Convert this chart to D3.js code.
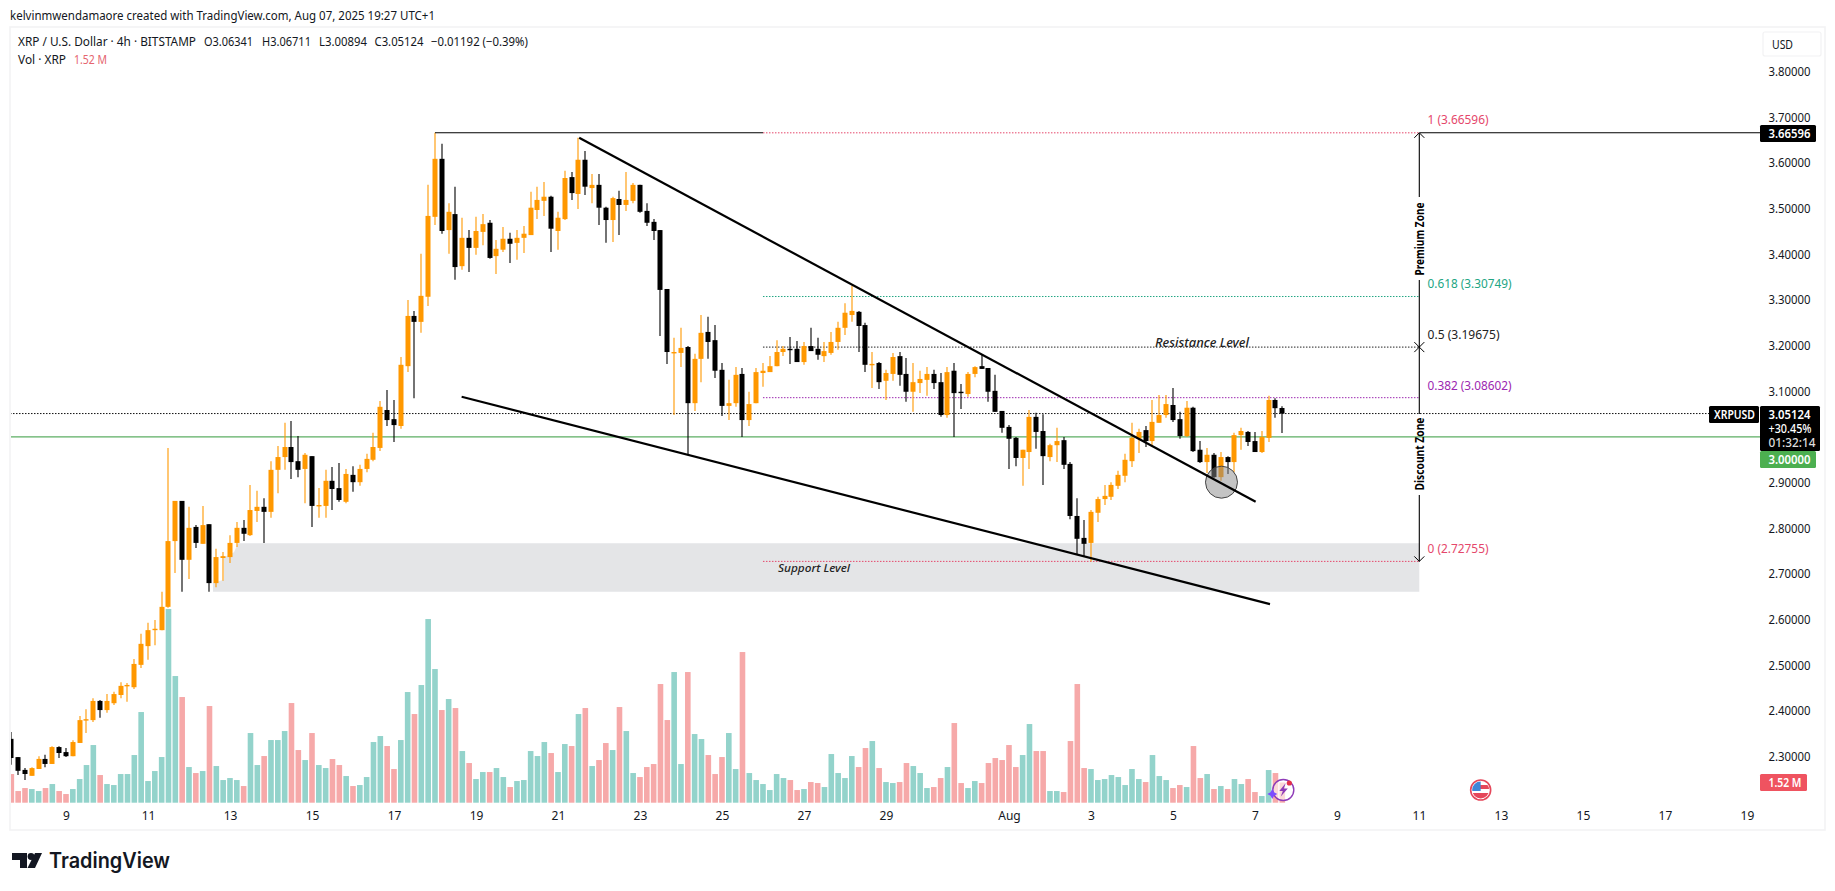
<!DOCTYPE html>
<html>
<head>
<meta charset="utf-8">
<title>XRP / U.S. Dollar</title>
<script src="https://cdn.jsdelivr.net/npm/d3@7"></script>
<style>
  html, body { margin: 0; padding: 0; background: #fff; }
  svg { display: block; }
  text { font-family: "Noto Sans", sans-serif; fill: #131722; }
</style>
</head>
<body>
<div id="chart"></div>
<script>
// 4h candles, first bar is 8 bars before the "9" tick
const opens = [
  2.339,2.299,2.271,2.258,2.273,2.295,2.284,2.321,2.310,2.301,
  2.330,2.380,2.380,2.422,2.402,2.417,2.435,2.455,2.452,2.501,
  2.542,2.577,2.577,2.628,2.772,2.860,2.731,2.803,2.766,2.809,
  2.680,2.735,2.737,2.768,2.801,2.785,2.838,2.847,2.836,2.928,
  2.956,2.978,2.947,2.930,2.958,2.849,2.849,2.904,2.888,2.858,
  2.917,2.901,2.930,2.950,2.976,3.059,3.039,3.024,3.155,3.265,
  3.252,3.307,3.482,3.609,3.453,3.488,3.374,3.436,3.414,3.449,
  3.469,3.396,3.410,3.434,3.425,3.436,3.442,3.497,3.517,3.526,
  3.451,3.477,3.569,3.532,3.607,3.545,3.552,3.502,3.475,3.521,
  3.508,3.517,3.552,3.495,3.471,3.453,3.324,3.184,3.184,3.197,
  3.074,3.171,3.230,3.212,3.147,3.068,3.074,3.138,3.037,3.074,
  3.140,3.142,3.155,3.186,3.193,3.193,3.164,3.199,3.193,3.177,
  3.184,3.208,3.239,3.267,3.274,3.245,3.158,3.162,3.123,3.138,
  3.177,3.138,3.099,3.118,3.125,3.138,3.120,3.048,3.145,3.099,
  3.094,3.138,3.155,3.151,3.101,3.057,3.022,2.998,2.954,2.967,
  3.044,3.013,2.956,2.982,2.993,2.941,2.827,2.779,2.768,2.834,
  2.864,2.869,2.893,2.915,2.947,2.996,3.015,2.991,3.031,3.048,
  3.070,3.039,3.002,3.064,2.972,2.945,2.961,2.912,2.956,2.945,
  3.004,3.011,2.991,2.967,2.998,3.081,3.06341
];
const highs = [
  2.354,2.299,2.275,2.277,2.301,2.304,2.323,2.323,2.319,2.336,
  2.389,2.404,2.428,2.424,2.437,2.442,2.463,2.461,2.514,2.569,
  2.593,2.599,2.661,2.976,2.860,2.860,2.847,2.807,2.849,2.809,
  2.755,2.748,2.785,2.814,2.818,2.895,2.882,2.866,2.947,2.980,
  3.031,3.035,3.002,2.965,2.958,2.888,2.928,2.934,2.943,2.930,
  2.936,2.939,2.963,3.009,3.079,3.103,3.081,3.175,3.300,3.276,
  3.401,3.552,3.666,3.642,3.512,3.548,3.480,3.453,3.482,3.488,
  3.475,3.431,3.460,3.447,3.453,3.462,3.537,3.548,3.558,3.528,
  3.493,3.583,3.580,3.655,3.626,3.576,3.576,3.504,3.526,3.539,
  3.580,3.556,3.552,3.512,3.477,3.453,3.324,3.217,3.239,3.199,
  3.182,3.267,3.263,3.245,3.162,3.125,3.153,3.151,3.099,3.151,
  3.162,3.177,3.212,3.199,3.219,3.210,3.208,3.239,3.217,3.208,
  3.230,3.252,3.293,3.331,3.276,3.250,3.186,3.164,3.147,3.184,
  3.186,3.173,3.162,3.145,3.153,3.147,3.140,3.153,3.162,3.116,
  3.142,3.155,3.180,3.151,3.136,3.057,3.026,3.000,2.972,3.059,
  3.053,3.050,2.985,3.020,3.000,2.945,2.866,2.818,2.840,2.869,
  2.895,2.901,2.926,2.963,3.031,3.018,3.024,3.081,3.092,3.092,
  3.107,3.055,3.079,3.066,2.991,2.976,2.965,2.967,2.958,3.009,
  3.020,3.013,3.011,3.013,3.090,3.085,3.06711
];
const lows = [
  2.282,2.260,2.249,2.258,2.273,2.277,2.284,2.297,2.299,2.301,
  2.330,2.352,2.376,2.385,2.396,2.413,2.428,2.420,2.448,2.494,
  2.512,2.544,2.577,2.626,2.702,2.661,2.689,2.757,2.766,2.661,
  2.671,2.685,2.724,2.759,2.772,2.783,2.814,2.768,2.823,2.877,
  2.928,2.908,2.912,2.855,2.803,2.823,2.823,2.840,2.858,2.855,
  2.880,2.893,2.923,2.947,2.969,3.024,2.989,3.018,3.142,3.085,
  3.228,3.287,3.464,3.445,3.401,3.344,3.366,3.361,3.399,3.420,
  3.390,3.357,3.405,3.381,3.388,3.403,3.442,3.477,3.484,3.405,
  3.410,3.475,3.519,3.499,3.530,3.512,3.464,3.425,3.427,3.442,
  3.495,3.512,3.491,3.462,3.431,3.221,3.160,3.048,3.153,2.961,
  3.057,3.120,3.171,3.129,3.046,3.037,3.066,3.000,3.024,3.074,
  3.110,3.142,3.155,3.177,3.160,3.164,3.158,3.188,3.169,3.164,
  3.180,3.191,3.223,3.252,3.186,3.142,3.107,3.105,3.081,3.123,
  3.112,3.077,3.055,3.096,3.090,3.105,3.044,3.042,3.000,3.061,
  3.088,3.131,3.149,3.077,3.055,3.009,2.930,2.936,2.893,2.930,
  2.974,2.895,2.947,2.945,2.930,2.820,2.742,2.739,2.72755,2.814,
  2.851,2.862,2.886,2.901,2.934,2.965,2.978,2.982,3.031,3.042,
  3.033,2.996,3.000,2.967,2.943,2.921,2.910,2.904,2.919,2.923,
  2.972,2.980,2.967,2.965,2.989,3.042,3.00894
];
const closes = [
  2.297,2.269,2.262,2.275,2.295,2.284,2.321,2.308,2.301,2.332,
  2.380,2.382,2.422,2.402,2.422,2.437,2.455,2.457,2.503,2.547,
  2.577,2.580,2.628,2.772,2.860,2.731,2.801,2.768,2.807,2.680,
  2.737,2.739,2.768,2.801,2.788,2.840,2.847,2.836,2.928,2.956,
  2.978,2.945,2.928,2.961,2.849,2.851,2.904,2.886,2.862,2.919,
  2.901,2.930,2.952,2.978,3.066,3.037,3.026,3.158,3.265,3.252,
  3.309,3.484,3.609,3.451,3.493,3.372,3.436,3.414,3.451,3.466,
  3.392,3.412,3.434,3.423,3.436,3.445,3.502,3.519,3.526,3.456,
  3.480,3.567,3.534,3.607,3.548,3.552,3.502,3.475,3.523,3.508,
  3.519,3.552,3.493,3.469,3.451,3.322,3.186,3.186,3.195,3.074,
  3.171,3.228,3.208,3.145,3.068,3.074,3.136,3.037,3.072,3.142,
  3.145,3.155,3.186,3.193,3.191,3.164,3.199,3.188,3.180,3.188,
  3.208,3.239,3.272,3.276,3.243,3.158,3.160,3.120,3.140,3.175,
  3.136,3.099,3.120,3.127,3.138,3.118,3.048,3.142,3.096,3.096,
  3.138,3.153,3.149,3.099,3.055,3.020,2.996,2.954,2.972,3.044,
  3.011,2.958,2.982,2.991,2.939,2.827,2.777,2.766,2.836,2.864,
  2.871,2.895,2.917,2.950,2.998,3.011,2.991,3.033,3.048,3.072,
  3.037,3.002,3.064,2.969,2.945,2.961,2.912,2.956,2.945,3.004,
  3.013,2.989,2.967,3.000,3.081,3.063,3.05124
];
// volume in thousands of XRP
const volumes = [
  2150,875,1100,1025,875,1100,1400,875,650,1025,
  1775,2825,4325,2075,1400,1325,2150,2150,3575,6800,
  1625,2375,3425,14525,9500,7925,2675,2225,2375,7250,
  2750,1700,1850,1700,1250,5225,2825,3500,4700,4700,
  5375,7475,3950,3200,5225,2825,2600,3275,2825,2000,
  1250,1325,1925,4550,5000,4250,2525,4700,8300,6650,
  8825,13775,10025,6950,7775,7100,3875,2975,1775,2300,
  2300,2600,1925,1175,1625,1700,3875,3500,4550,3725,
  2300,4400,4250,6650,7100,2750,3200,4475,3950,7175,
  5375,2225,1925,2675,2900,8900,6200,9800,2900,9800,
  5150,4775,3575,2150,3425,5225,2525,11300,2225,1700,
  1400,950,2150,1850,1700,950,1025,1550,1475,1175,
  3650,2225,1850,3500,2675,4100,4625,2600,1550,1475,
  1550,2975,2750,2225,1100,1175,1850,2675,5975,1475,
  1100,1625,1475,2975,3350,3200,4325,2675,3575,5900,
  3875,3875,875,875,800,4625,8900,2600,2525,1700,
  1775,2075,1925,1325,2525,1775,1550,3575,2000,1700,
  1100,1325,1175,4250,1850,2150,1025,1250,1025,1775,
  1400,1775,800,500,2450,2225,1520
];

const barsPerDay = 6;
const firstTickBar = 8;
const priceTicks = [3.8,3.7,3.6,3.5,3.4,3.3,3.2,3.1,2.9,2.8,2.7,2.6,2.5,2.4,2.3];
const tickDays = [0,2,4,6,8,10,12,14,16,18,20,23,25,27,29,31,33,35,37,39,41];
const tickLabels = ["9","11","13","15","17","19","21","23","25","27","29","Aug","3","5","7","9","11","13","15","17","19"];

const fibLevels = [1, 0.618, 0.5, 0.382, 0];
const fibPrices = [3.66596, 3.30749, 3.19675, 3.08602, 2.72755];
const fibColors = ["#e5476b", "#22a583", "#222222", "#9c27b0", "#e5476b"];
const fibLabelLift = [13, 13, 13, 12, 13];

const lastPrice = 3.05124;
const roundPrice = 3.0;
const highPrice = 3.66596;

const width = 1835, height = 891;
const svg = d3.select("#chart").append("svg").attr("width", width).attr("height", height);

const x = d3.scaleLinear().domain([0, opens.length - 1]).range([11.33, 1282.3]);
const y = d3.scaleLinear().domain([3.8, 2.3]).range([71.6, 756.65]);
const yVol = d3.scaleLinear().domain([0, 15000]).range([802.7, 602.7]);
const dayX = day => x(firstTickBar + day * barsPerDay);
const candles = opens.map((o, i) => ({ i, o, h: highs[i], l: lows[i], c: closes[i], v: volumes[i] }));

const frameLeft = 10, frameTop = 27, frameRight = 1825, frameBottom = 830;
const fibLeft = x(110), fibRight = 1419.3, scaleLeft = 1760;

// frame
svg.append("rect").attr("x", frameLeft).attr("y", frameTop)
  .attr("width", frameRight - frameLeft).attr("height", frameBottom - frameTop)
  .attr("fill", "none").attr("stroke", "#f3f3f4").attr("stroke-width", 1.6);

svg.append("clipPath").attr("id", "pane").append("rect")
  .attr("x", frameLeft + 1).attr("y", frameTop).attr("width", scaleLeft - frameLeft - 1).attr("height", frameBottom - frameTop);
const pane = svg.append("g").attr("clip-path", "url(#pane)");

// support zone, the left end steps around the candles
const zoneTop = y(2.767), zoneBottom = y(2.661);
pane.append("path")
  .attr("d", d3.line()([[238, zoneTop], [fibRight, zoneTop], [fibRight, zoneBottom], [213, zoneBottom], [213, zoneBottom - 9], [224, zoneBottom - 12], [224, zoneTop + 14], [234, zoneTop + 9]]) + "Z")
  .attr("fill", "#e4e5e7");

// volume
pane.append("g").selectAll("rect").data(candles).join("rect")
  .attr("x", d => x(d.i) - 2.8)
  .attr("width", 5.6)
  .attr("y", d => yVol(d.v))
  .attr("height", d => yVol(0) - yVol(d.v))
  .attr("fill", d => d.c >= d.o ? "#93d3cb" : "#f6a9a9");

// fib levels
pane.append("g").selectAll("line").data(fibPrices).join("line")
  .attr("x1", fibLeft).attr("x2", fibRight)
  .attr("y1", d => y(d)).attr("y2", d => y(d))
  .attr("stroke", (d, i) => fibColors[i])
  .attr("stroke-dasharray", "1.5 1.5")
  .attr("stroke-width", 1);

// last price and round number lines
pane.append("line").attr("x1", frameLeft).attr("x2", 1709).attr("y1", y(lastPrice)).attr("y2", y(lastPrice))
  .attr("stroke", "#111").attr("stroke-dasharray", "1.5 1.5");
pane.append("line").attr("x1", frameLeft).attr("x2", scaleLeft).attr("y1", y(roundPrice)).attr("y2", y(roundPrice))
  .attr("stroke", "#5cae63").attr("stroke-width", 1.2);

// candles
const candleColor = d => d.c >= d.o ? "#ff9800" : "#000000";
const candle = pane.append("g").selectAll("g").data(candles).join("g");
candle.append("line")
  .attr("x1", d => Math.round(x(d.i))).attr("x2", d => Math.round(x(d.i)))
  .attr("y1", d => y(d.h)).attr("y2", d => y(d.l))
  .attr("stroke", candleColor).attr("stroke-width", 1.1);
candle.append("rect")
  .attr("x", d => Math.round(x(d.i)) - 2.5)
  .attr("width", 5)
  .attr("y", d => y(Math.max(d.o, d.c)))
  .attr("height", d => Math.max(1.4, Math.abs(y(d.o) - y(d.c))))
  .attr("fill", candleColor);

// highest price line, left part and right part of the fib
svg.append("line").attr("x1", x(62)).attr("x2", fibLeft).attr("y1", y(highPrice)).attr("y2", y(highPrice))
  .attr("stroke", "#000").attr("stroke-width", 1.1);
svg.append("line").attr("x1", fibRight).attr("x2", scaleLeft).attr("y1", y(highPrice)).attr("y2", y(highPrice))
  .attr("stroke", "#000").attr("stroke-width", 1.1);

// retest circle, sits on the candles
svg.append("circle").attr("cx", x(177.1)).attr("cy", y(2.901)).attr("r", 16)
  .attr("fill", "#8a8a8a").attr("fill-opacity", 0.5).attr("stroke", "#444").attr("stroke-width", 1);

// wedge lines
const upperLine = [[83.1, 3.655], [182.1, 2.858]];
const lowerLine = [[65.9, 3.088], [184.2, 2.634]];
[upperLine, lowerLine].forEach(pts => {
  svg.append("path")
    .attr("d", d3.line().x(p => x(p[0])).y(p => y(p[1]))(pts))
    .attr("stroke", "#000").attr("stroke-width", 2.2).attr("fill", "none");
});

// vertical range line with the zone names
const vSegs = [[133.3, 197], [280, 414], [495, y(2.72755)]];
svg.append("g").selectAll("line").data(vSegs).join("line")
  .attr("x1", fibRight).attr("x2", fibRight).attr("y1", d => d[0]).attr("y2", d => d[1])
  .attr("stroke", "#000").attr("stroke-width", 1.1);
const marks = svg.append("g").attr("fill", "none").attr("stroke", "#000").attr("stroke-width", 1);
const yTop = y(highPrice), yMid = y(3.19675), yBot = y(2.72755);
marks.append("path").attr("d", `M${fibRight - 5},${yTop + 5}L${fibRight},${yTop}L${fibRight + 5},${yTop + 5}`);
marks.append("path").attr("d", `M${fibRight - 5},${yBot - 5}L${fibRight},${yBot}L${fibRight + 5},${yBot - 5}`);
marks.append("path").attr("d", `M${fibRight - 5},${yMid - 5}L${fibRight + 5},${yMid + 5}M${fibRight - 5},${yMid + 5}L${fibRight + 5},${yMid - 5}`);

function label(txt, px, py, opts = {}) {
  const t = svg.append("text").attr("x", px).attr("y", py).text(txt)
    .attr("dominant-baseline", "central")
    .attr("font-size", opts.size || 12)
    .attr("text-anchor", opts.anchor || "start");
  if (opts.width) t.attr("textLength", opts.width).attr("lengthAdjust", "spacingAndGlyphs");
  if (opts.color) t.style("fill", opts.color);
  if (opts.weight) t.attr("font-weight", opts.weight);
  if (opts.italic) t.attr("font-style", "italic");
  if (opts.rotate) t.attr("transform", `rotate(${opts.rotate},${px},${py})`);
  return t;
}

label("Premium Zone", fibRight, 239, { anchor: "middle", rotate: -90, weight: 700, size: 11.5, width: 73, color: "#000" });
label("Discount Zone", fibRight, 454, { anchor: "middle", rotate: -90, weight: 700, size: 11.5, width: 73, color: "#000" });
label("Resistance Level", 1155, 342, { italic: true, size: 12.5, width: 94, color: "#222", weight: 500 });
label("Support Level", 778, 567, { italic: true, size: 11.5, width: 72, color: "#222", weight: 500 });

// fib labels
const fibLabelWidths = [61, 84, 72, 84, 61];
fibLevels.forEach((lv, i) => {
  label(`${lv} (${fibPrices[i].toFixed(5)})`, 1427.5, y(fibPrices[i]) - fibLabelLift[i], { size: 12, color: fibColors[i], width: fibLabelWidths[i] });
});

// price axis
const yAxis = d3.axisRight(y).tickValues(priceTicks).tickFormat(d3.format(".5f")).tickSize(0).tickPadding(0);
const yAxisG = svg.append("g").attr("transform", "translate(1768.5,0)").call(yAxis);
yAxisG.select(".domain").remove();
yAxisG.selectAll("text").attr("font-size", 12).attr("textLength", 42).attr("lengthAdjust", "spacingAndGlyphs").attr("font-family", null);

// time axis
const xAxis = d3.axisBottom(x)
  .tickValues(tickDays.map(d => firstTickBar + d * barsPerDay))
  .tickFormat((d, i) => tickLabels[i]).tickSize(0).tickPadding(0);
const xAxisG = svg.append("g").attr("transform", "translate(0,811)").call(xAxis);
xAxisG.select(".domain").remove();
xAxisG.selectAll("text").attr("font-size", 12).attr("font-family", null);

// price tags
function tag(px, py, w, h, fill, txt, tx, opts = {}) {
  svg.append("rect").attr("x", px).attr("y", py).attr("width", w).attr("height", h).attr("rx", 1.5).attr("fill", fill);
  if (txt) label(txt, tx, py + h / 2, Object.assign({ color: "#fff", size: 12, weight: 600 }, opts));
}
tag(scaleLeft, 125, 56, 17, "#000", highPrice.toFixed(5), 1768.5, { width: 42 });
tag(1709, 406, 50, 17, "#000", "XRPUSD", 1714, { width: 41 });
tag(scaleLeft, 406, 60, 45, "#000", null);
label(lastPrice.toFixed(5), 1768.5, 414.7, { color: "#fff", weight: 600, width: 42 });
label("+30.45%", 1768.5, 428.7, { color: "#fff", weight: 500, width: 43 });
label("01:32:14", 1768.5, 442.7, { color: "#ddd", weight: 500, width: 47 });
tag(scaleLeft, 451, 56, 17, "#4caf50", roundPrice.toFixed(5), 1768.5, { width: 42 });
tag(scaleLeft, 774, 47, 17, "#ef5360", "1.52 M", 1768.5, { width: 33 });

// USD box
svg.append("rect").attr("x", 1763).attr("y", 32).attr("width", 58).attr("height", 24).attr("rx", 2)
  .attr("fill", "#fff").attr("stroke", "#f2f2f3").attr("stroke-width", 1.2);
label("USD", 1772, 44.5, { size: 12, width: 21 });

// header and legend
label("kelvinmwendamaore created with TradingView.com, Aug 07, 2025 19:27 UTC+1", 10, 15, { size: 12, width: 425 });
label("XRP / U.S. Dollar · 4h · BITSTAMP", 18, 41.7, { size: 12, width: 178 });
label("O3.06341", 204, 41.7, { size: 12, width: 49 });
label("H3.06711", 262, 41.7, { size: 12, width: 49 });
label("L3.00894", 319, 41.7, { size: 12, width: 48 });
label("C3.05124", 374.5, 41.7, { size: 12, width: 49 });
label("−0.01192 (−0.39%)", 431, 41.7, { size: 12, width: 97 });
label("Vol · XRP", 18, 59, { size: 12, width: 48 });
label("1.52 M", 74, 59, { size: 12, width: 33, color: "#e5656f" });

// TradingView logo
const logo = svg.append("g").attr("fill", "#131722");
logo.append("path").attr("d", "M12,853H27V868H20V860H12Z");
logo.append("circle").attr("cx", 31).attr("cy", 856.5).attr("r", 3.4);
logo.append("path").attr("d", "M35,853H42L35,868H27.5Z");
label("TradingView", 49, 860.5, { size: 21, weight: 600, width: 121, color: "#131722" }).style("font-family", "Inter");

// lightning badge over the last volume bars
const badge = svg.append("g").attr("transform", `translate(${x(186) + 1},790)`);
badge.append("circle").attr("r", 10.5).attr("fill", "#fff").attr("fill-opacity", 0.55).attr("stroke", "#8e3bb8").attr("stroke-width", 1.4);
badge.append("path").attr("d", "M2.5,-7L-4,1H-0.5L-2.5,6.5L4.5,-1.5H0.5Z").attr("fill", "#8e3bb8");
badge.append("circle").attr("cx", 6).attr("cy", -7).attr("r", 2.6).attr("fill", "#e5304a");
badge.append("path").attr("d", "M-11,-1L-9.2,2.2L-6,4L-9.2,5.8L-11,9L-12.8,5.8L-16,4L-12.8,2.2Z").attr("fill", "#7c4dff");

// US flag event marker
const flag = svg.append("g").attr("transform", `translate(${dayX(34) + 20.7},790)`);
svg.append("clipPath").attr("id", "flagClip").append("circle").attr("r", 8.5);
const flagInner = flag.append("g").attr("clip-path", "url(#flagClip)");
flagInner.append("rect").attr("x", -9).attr("y", -9).attr("width", 18).attr("height", 18).attr("fill", "#fff");
flagInner.append("rect").attr("x", -1).attr("y", -5).attr("width", 10).attr("height", 4).attr("fill", "#e5475a");
flagInner.append("rect").attr("x", -9).attr("y", 3).attr("width", 18).attr("height", 6).attr("fill", "#e5475a");
flagInner.append("rect").attr("x", -9).attr("y", -9).attr("width", 9).attr("height", 10).attr("fill", "#3f86d8");
flag.append("circle").attr("r", 10).attr("fill", "none").attr("stroke", "#e5475a").attr("stroke-width", 1.6);
</script>
</body>
</html>
